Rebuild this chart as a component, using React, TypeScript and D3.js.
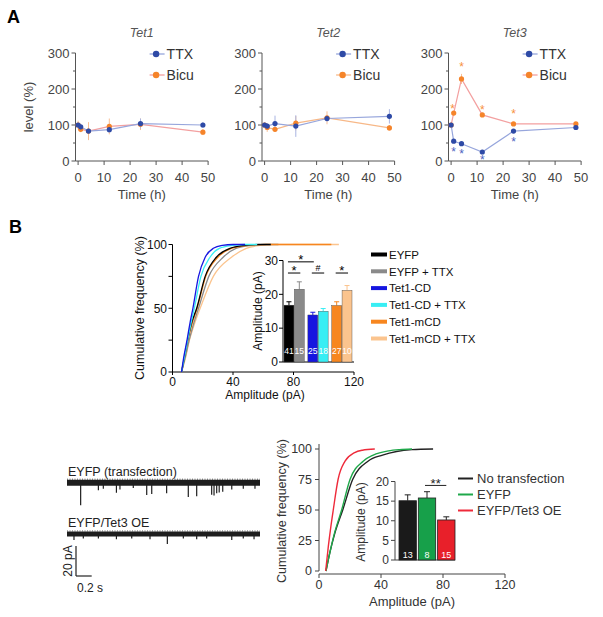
import React from 'react';
import * as d3 from 'd3';

const FONT = '"Liberation Sans", Arial, Helvetica, sans-serif';

// ---------- Panel A data ----------
const timePoints = [0, 1, 4, 12, 24, 48];
const tet1TTX = [100, 95, 83, 87, 104, 100];
const tet1TTXErr = [6, 6, 8, 8, 14, 8];
const tet1Bicu = [100, 88, 83, 96, 102, 80];
const tet1BicuErr = [12, 8, 25, 22, 16, 8];
const tet2TTX = [100, 97, 104, 97, 118, 124];
const tet2TTXErr = [6, 8, 22, 30, 10, 20];
const tet2Bicu = [100, 93, 88, 105, 120, 92];
const tet2BicuErr = [8, 12, 6, 20, 18, 8];
const tet3TTX = [100, 55, 48, 25, 83, 93];
const tet3TTXErr = [4, 4, 4, 4, 4, 4];
const tet3Bicu = [100, 133, 228, 128, 103, 103];
const tet3BicuErr = [4, 6, 14, 6, 4, 4];
const tet3TTXStars: [number, number][] = [[1, 33], [4, 28], [12, 10], [24, 60]];
const tet3BicuStars: [number, number][] = [[0.6, 153], [4, 268], [12, 150], [24, 138]];
const aYTicks = [0, 100, 200, 300];
const aYMinor = [50, 150, 250];
const aXTicks = [0, 10, 20, 30, 40, 50];

// ---------- Panel B upper: cumulative curves ----------
const bUpperNames = ['EYFP', 'EYFP + TTX', 'Tet1-CD', 'Tet1-CD + TTX', 'Tet1-mCD', 'Tet1-mCD + TTX'];
const bUpperColors = ['#000000', '#8a8a8a', '#1616e0', '#38eef4', '#f7861f', '#fbc48e'];
const cumEYFP: [number, number][] = [[6, 0], [8, 12], [10, 25], [12.5, 38], [16, 50], [21.6, 75], [29, 90], [38, 97], [48, 99.3], [57, 100], [65, 100]];
const cumEYFPTTX: [number, number][] = [[6, 0], [8.5, 12], [11, 25], [14, 38], [17.2, 50], [24, 75], [33.5, 90], [42, 97], [52, 99.3], [62, 100], [70, 100]];
const cumTet1CD: [number, number][] = [[6, 0], [7.5, 12], [9.6, 25], [11.5, 38], [13.5, 50], [17.2, 75], [21.6, 90], [27, 97], [33, 99.3], [40, 100], [48, 100]];
const cumTet1CDTTX: [number, number][] = [[6, 0], [8, 12], [10, 25], [12.2, 38], [14.4, 50], [18.8, 75], [24.8, 90], [31, 97], [40, 99.3], [48, 100], [56, 100]];
const cumTet1mCD: [number, number][] = [[6, 0], [8, 12], [10.2, 25], [13, 38], [16.3, 50], [22, 75], [30, 90], [39, 97], [50, 99.3], [62, 100], [105, 100]];
const cumTet1mCDTTX: [number, number][] = [[6, 0], [8.8, 12], [11.2, 25], [14.6, 38], [18.3, 50], [27, 75], [39, 90], [48.8, 97], [58, 99.3], [66, 100], [110, 100]];
const bUpperCurves = [cumEYFP, cumEYFPTTX, cumTet1CD, cumTet1CDTTX, cumTet1mCD, cumTet1mCDTTX];
const bUpperDrawOrder = [5, 1, 4, 0, 3, 2];
const bUpperGroups = ['EYFP', 'Tet1-CD', 'Tet1-mCD'];
const bUpperMeans = [16.8, 21.5, 13.9, 15.0, 16.7, 21.2];
const bUpperErr = [1.0, 2.2, 0.8, 0.8, 1.1, 1.4];
const bUpperN = ['41', '15', '25', '18', '27', '10'];
const bUpperSig = [
  { a: 0, b: 2, level: 29.6, mark: '*' },
  { a: 0, b: 1, level: 26.3, mark: '*' },
  { a: 2, b: 3, level: 26.3, mark: '#' },
  { a: 4, b: 5, level: 26.3, mark: '*' },
];
const cumYTicks = [0, 25, 50, 75, 100];
const cumYLabels = [0, 50, 100];
const ampXTicks = [0, 40, 80, 120];
const insetUpperYTicks = [0, 10, 20, 30];

// ---------- Panel B lower ----------
const bLowerNames = ['No transfection', 'EYFP', 'EYFP/Tet3 OE'];
const bLowerColors = ['#222222', '#1fa84a', '#ee2a3a'];
const bLowerBarColors = ['#1a1a1a', '#17a04a', '#e8202a'];
const cumNoTrans: [number, number][] = [[4.5, 0], [7, 15], [10, 30], [15.3, 50], [21.7, 75], [31.6, 90], [41, 95], [50, 98], [60, 99.5], [73.6, 100]];
const cumEYFP2: [number, number][] = [[4.5, 0], [7, 15], [10, 31], [14.6, 50], [20, 75], [28.5, 90], [35, 95], [45, 98.5], [52, 99.5], [60, 100]];
const cumTet3OE: [number, number][] = [[4.3, 0], [6, 20], [7.5, 35], [9.2, 50], [12.3, 75], [16.8, 90], [23, 97], [28, 99], [36, 100]];
const bLowerCurves = [cumNoTrans, cumEYFP2, cumTet3OE];
const bLowerMeans = [15.1, 15.8, 10.2];
const bLowerErr = [1.5, 1.6, 0.8];
const bLowerN = ['13', '8', '15'];
const insetLowerYTicks = [0, 5, 10, 15, 20];

// traces: [time (s), amplitude (pA, downward)]
const trace1Spikes: [number, number][] = [[0.174, 15], [0.40, 5], [0.463, 4], [0.63, 6.7], [0.675, 4.5], [0.845, 3.5], [1.016, 8.2], [1.08, 7.5], [1.27, 7], [1.546, 9.5], [1.653, 9], [1.844, 8], [1.874, 8.5], [1.908, 7], [1.94, 6.5], [1.985, 6], [2.10, 4.5], [2.247, 4], [2.396, 4]];
const trace2Spikes: [number, number][] = [[0.089, 4], [0.208, 3], [0.40, 3], [0.63, 3.5], [0.825, 3], [1.058, 3.5], [1.279, 6.7], [1.483, 3], [1.653, 3.5], [1.78, 3], [2.10, 4], [2.247, 3], [2.384, 3.5]];
const traceDuration = 2.46;

function Star({ x, y, color, size = 13 }: { x: number; y: number; color: string; size?: number }) {
  return (
    <text x={x} y={y + size * 0.55} textAnchor="middle" fontSize={size} fill={color} fontFamily={FONT}>*</text>
  );
}

function PanelA(props: {
  axisX: number; title: string; ttx: number[]; ttxErr: number[]; bicu: number[]; bicuErr: number[];
  ttxStars?: [number, number][]; bicuStars?: [number, number][]; bicuLine: string; yLabel?: boolean;
}) {
  const { axisX, title, ttx, ttxErr, bicu, bicuErr, ttxStars = [], bicuStars = [], bicuLine, yLabel } = props;
  const x = d3.scaleLinear().domain([-1, 50]).range([axisX, axisX + 132.6]);
  const y = d3.scaleLinear().domain([0, 300]).range([161, 53]);
  const line = d3.line<number>().x((_, i) => x(timePoints[i])).y((d) => y(d));
  const axisCol = '#555';
  const txtCol = '#444';
  const ttxDot = '#2e4aa6';
  const bicuDot = '#f5842a';
  const legX = x(27.5);
  return (
    <g fontFamily={FONT}>
      <text x={(x(-1) + x(50)) / 2} y={37} textAnchor="middle" fontSize={12.5} fontStyle="italic" fill="#555">{title}</text>
      <line x1={axisX} x2={axisX} y1={y(0)} y2={y(300)} stroke={axisCol} strokeWidth={1} />
      <line x1={axisX} x2={x(50)} y1={y(0)} y2={y(0)} stroke={axisCol} strokeWidth={1} />
      {aYTicks.map((t) => (
        <g key={'y' + t}>
          <line x1={axisX - 4} x2={axisX} y1={y(t)} y2={y(t)} stroke={axisCol} />
          <text x={axisX - 6} y={y(t) + 4.5} textAnchor="end" fontSize={13} fill={txtCol}>{t}</text>
        </g>
      ))}
      {aYMinor.map((t) => (
        <line key={'m' + t} x1={axisX - 2.5} x2={axisX} y1={y(t)} y2={y(t)} stroke={axisCol} />
      ))}
      {aXTicks.map((t) => (
        <g key={'x' + t}>
          <line x1={x(t)} x2={x(t)} y1={y(0)} y2={y(0) + 4} stroke={axisCol} />
          <text x={x(t)} y={y(0) + 21} textAnchor="middle" fontSize={13} fill={txtCol}>{t}</text>
        </g>
      ))}
      <text x={(x(-1) + x(50)) / 2} y={199} textAnchor="middle" fontSize={13} fill={txtCol}>Time (h)</text>
      {yLabel && (
        <text transform={`translate(${33},${107}) rotate(-90)`} textAnchor="middle" fontSize={13} fill={txtCol}>level (%)</text>
      )}
      <path d={line(bicu) || ''} fill="none" stroke={bicuLine} strokeWidth={1.2} />
      <path d={line(ttx) || ''} fill="none" stroke="#97a6dc" strokeWidth={1.2} />
      {bicu.map((v, i) => (
        <line key={'be' + i} x1={x(timePoints[i])} x2={x(timePoints[i])} y1={y(v - bicuErr[i])} y2={y(v + bicuErr[i])} stroke="#f8bf95" strokeWidth={1} />
      ))}
      {ttx.map((v, i) => (
        <line key={'te' + i} x1={x(timePoints[i])} x2={x(timePoints[i])} y1={y(v - ttxErr[i])} y2={y(v + ttxErr[i])} stroke="#a8b4e2" strokeWidth={1} />
      ))}
      {bicu.map((v, i) => (
        <circle key={'bd' + i} cx={x(timePoints[i])} cy={y(v)} r={2.6} fill={bicuDot} />
      ))}
      {ttx.map((v, i) => (
        <circle key={'td' + i} cx={x(timePoints[i])} cy={y(v)} r={2.6} fill={ttxDot} />
      ))}
      {ttxStars.map(([t, v], i) => <Star key={'ts' + i} x={x(t)} y={y(v)} color="#4a62c0" size={12} />)}
      {bicuStars.map(([t, v], i) => <Star key={'bs' + i} x={x(t)} y={y(v)} color="#f7913e" size={12} />)}
      <line x1={legX} x2={legX + 15} y1={54} y2={54} stroke="#97a6dc" strokeWidth={1.3} />
      <circle cx={legX + 6.5} cy={54} r={3.2} fill={ttxDot} />
      <text x={legX + 17} y={59} fontSize={14} fill="#333">TTX</text>
      <line x1={legX} x2={legX + 15} y1={75} y2={75} stroke={bicuLine} strokeWidth={1.3} />
      <circle cx={legX + 6.5} cy={75} r={3.2} fill={bicuDot} />
      <text x={legX + 17} y={80} fontSize={14} fill="#333">Bicu</text>
    </g>
  );
}

function PanelBUpper() {
  const x = d3.scaleLinear().domain([0, 120]).range([172.5, 354]);
  const y = d3.scaleLinear().domain([0, 100]).range([372, 244.5]);
  const line = d3.line<[number, number]>().x((d) => x(d[0])).y((d) => y(d[1])).curve(d3.curveMonotoneX);
  const iy = d3.scaleLinear().domain([0, 30]).range([362, 260.5]);
  const outer = d3.scaleBand<string>().domain(bUpperGroups).range([284, 352]).paddingInner(0.15).paddingOuter(0);
  const inner = d3.scaleBand<string>().domain(['ctrl', 'ttx']).range([0, outer.bandwidth()]).paddingInner(0.04);
  const barX = (i: number) => (outer(bUpperGroups[Math.floor(i / 2)]) || 0) + (inner(i % 2 === 0 ? 'ctrl' : 'ttx') || 0);
  const bw = inner.bandwidth();
  return (
    <g fontFamily={FONT}>
      <line x1={172.5} x2={172.5} y1={y(0)} y2={y(100)} stroke="#000" />
      <line x1={172.5} x2={x(120)} y1={y(0)} y2={y(0)} stroke="#000" />
      {cumYTicks.map((t) => (
        <line key={'yt' + t} x1={168.5} x2={172.5} y1={y(t)} y2={y(t)} stroke="#000" />
      ))}
      {cumYLabels.map((t) => (
        <text key={'yl' + t} x={167} y={y(t) + 4.3} textAnchor="end" fontSize={12} fill="#111">{t}</text>
      ))}
      {ampXTicks.map((t) => (
        <g key={'xt' + t}>
          <line x1={x(t)} x2={x(t)} y1={y(0)} y2={y(0) + 3} stroke="#000" />
          <text x={x(t)} y={y(0) + 14} textAnchor="middle" fontSize={12} fill="#111">{t}</text>
        </g>
      ))}
      <text x={265} y={399} textAnchor="middle" fontSize={12} fill="#111">Amplitude (pA)</text>
      <text transform="translate(144,308) rotate(-90)" textAnchor="middle" fontSize={12.5} fill="#111">Cumulative frequency (%)</text>
      {bUpperDrawOrder.map((i) => (
        <path key={'c' + i} d={line(bUpperCurves[i]) || ''} fill="none" stroke={bUpperColors[i]} strokeWidth={1.3} />
      ))}
      <rect x={276} y={255} width={80} height={110} fill="#fff" />
      <line x1={283} x2={283} y1={iy(0)} y2={iy(30)} stroke="#000" />
      <line x1={283} x2={354} y1={iy(0)} y2={iy(0)} stroke="#000" />
      {insetUpperYTicks.map((t) => (
        <g key={'it' + t}>
          <line x1={279} x2={283} y1={iy(t)} y2={iy(t)} stroke="#000" />
          <text x={278} y={iy(t) + 4.3} textAnchor="end" fontSize={12} fill="#111">{t}</text>
        </g>
      ))}
      <text transform="translate(262,311) rotate(-90)" textAnchor="middle" fontSize={12} fill="#111">Amplitude (pA)</text>
      {bUpperMeans.map((m, i) => (
        <g key={'b' + i}>
          <line x1={barX(i) + bw / 2} x2={barX(i) + bw / 2} y1={iy(m)} y2={iy(m + bUpperErr[i])} stroke={i === 0 ? '#000' : bUpperColors[i]} strokeWidth={1} />
          <line x1={barX(i) + bw / 2 - 2.5} x2={barX(i) + bw / 2 + 2.5} y1={iy(m + bUpperErr[i])} y2={iy(m + bUpperErr[i])} stroke={i === 0 ? '#000' : bUpperColors[i]} strokeWidth={1} />
          <rect x={barX(i)} y={iy(m)} width={bw} height={iy(0) - iy(m)} fill={bUpperColors[i]} stroke="#444" strokeWidth={0.4} />
          <text x={barX(i) + bw / 2} y={354} textAnchor="middle" fontSize={8.5} fill="#fff">{bUpperN[i]}</text>
        </g>
      ))}
      {bUpperSig.map((s, i) => {
        const x1 = barX(s.a) + bw / 2 - 1;
        const x2 = barX(s.b) + bw / 2 + 1;
        return (
          <g key={'s' + i}>
            <line x1={x1} x2={x2} y1={iy(s.level)} y2={iy(s.level)} stroke="#000" strokeWidth={1} />
            {s.mark === '*' ? (
              <Star x={(x1 + x2) / 2} y={iy(s.level) - 5} color="#000" size={13} />
            ) : (
              <text x={(x1 + x2) / 2} y={iy(s.level) - 2} textAnchor="middle" fontSize={9} fill="#000">#</text>
            )}
          </g>
        );
      })}
      {bUpperNames.map((n, i) => (
        <g key={'l' + i}>
          <line x1={371} x2={387} y1={254.5 + i * 16.8} y2={254.5 + i * 16.8} stroke={bUpperColors[i]} strokeWidth={4} />
          <text x={389} y={254.5 + i * 16.8 + 4.2} fontSize={11.5} fill="#111">{n}</text>
        </g>
      ))}
    </g>
  );
}

function Traces() {
  const t = d3.scaleLinear().domain([0, traceDuration]).range([67, 260]);
  const a = d3.scaleLinear().domain([0, 20]).range([0, 30]);
  const base1 = 482.7;
  const base2 = 534;
  return (
    <g fontFamily={FONT}>
      <text x={68} y={476} fontSize={12.5} fill="#222">EYFP (transfection)</text>
      <line x1={t(0)} x2={t(traceDuration)} y1={base1} y2={base1} stroke="#1e1e1e" strokeWidth={6} />
      <line x1={t(0)} x2={t(traceDuration)} y1={base1 - 3.5} y2={base1 - 3.5} stroke="#555" strokeWidth={1} strokeDasharray="1 1.5" />
      {trace1Spikes.map(([tt, amp], i) => (
        <line key={'s1' + i} x1={t(tt)} x2={t(tt)} y1={base1} y2={base1 + a(amp)} stroke="#1e1e1e" strokeWidth={1.2} />
      ))}
      <text x={68} y={527} fontSize={12.5} fill="#222">EYFP/Tet3 OE</text>
      <line x1={t(0)} x2={t(traceDuration)} y1={base2} y2={base2} stroke="#1e1e1e" strokeWidth={5} />
      <line x1={t(0)} x2={t(traceDuration)} y1={base2 - 3} y2={base2 - 3} stroke="#555" strokeWidth={1} strokeDasharray="1 1.5" />
      {trace2Spikes.map(([tt, amp], i) => (
        <line key={'s2' + i} x1={t(tt)} x2={t(tt)} y1={base2} y2={base2 + a(amp)} stroke="#1e1e1e" strokeWidth={1.2} />
      ))}
      <line x1={76} x2={76} y1={576 - a(20)} y2={576} stroke="#222" strokeWidth={1.2} />
      <line x1={76} x2={76 + t(0.2) - t(0)} y1={576} y2={576} stroke="#222" strokeWidth={1.2} />
      <text transform="translate(72,561) rotate(-90)" textAnchor="middle" fontSize={12} fill="#222">20 pA</text>
      <text x={77} y={592} fontSize={12} fill="#222">0.2 s</text>
    </g>
  );
}

function PanelBLower() {
  const x = d3.scaleLinear().domain([0, 120]).range([319, 505]);
  const y = d3.scaleLinear().domain([0, 100]).range([571, 449]);
  const line = d3.line<[number, number]>().x((d) => x(d[0])).y((d) => y(d[1])).curve(d3.curveMonotoneX);
  const iy = d3.scaleLinear().domain([0, 20]).range([560, 481.5]);
  const band = d3.scaleBand<string>().domain(bLowerNames).range([399, 455]).paddingInner(0.1).paddingOuter(0);
  const bw = band.bandwidth();
  const txt = '#333';
  return (
    <g fontFamily={FONT}>
      <line x1={319} x2={319} y1={y(0)} y2={y(100) - 5} stroke="#444" />
      <line x1={319} x2={x(120)} y1={574} y2={574} stroke="#444" />
      {cumYTicks.map((t) => (
        <g key={'y' + t}>
          <line x1={315} x2={319} y1={y(t)} y2={y(t)} stroke="#444" />
          <text x={312} y={y(t) + 4.3} textAnchor="end" fontSize={12.5} fill={txt}>{t}</text>
        </g>
      ))}
      {ampXTicks.map((t) => (
        <g key={'x' + t}>
          <line x1={x(t)} x2={x(t)} y1={574} y2={578} stroke="#444" />
          <text x={x(t)} y={589} textAnchor="middle" fontSize={12.5} fill={txt}>{t}</text>
        </g>
      ))}
      <text x={412} y={606} textAnchor="middle" fontSize={13} fill={txt}>Amplitude (pA)</text>
      <text transform="translate(286,511) rotate(-90)" textAnchor="middle" fontSize={12.5} fill={txt}>Cumulative frequency (%)</text>
      {[0, 1, 2].map((i) => (
        <path key={'c' + i} d={line(bLowerCurves[i]) || ''} fill="none" stroke={bLowerColors[i]} strokeWidth={1.4} />
      ))}
      <line x1={395} x2={395} y1={iy(0)} y2={iy(20)} stroke="#444" />
      <line x1={395} x2={455} y1={iy(0)} y2={iy(0)} stroke="#444" />
      {insetLowerYTicks.map((t) => (
        <g key={'it' + t}>
          <line x1={391} x2={395} y1={iy(t)} y2={iy(t)} stroke="#444" />
          <text x={389} y={iy(t) + 4.3} textAnchor="end" fontSize={12} fill={txt}>{t}</text>
        </g>
      ))}
      <text transform="translate(365,522) rotate(-90)" textAnchor="middle" fontSize={12} fill={txt}>Amplitude (pA)</text>
      {bLowerMeans.map((m, i) => {
        const bx = band(bLowerNames[i]) || 0;
        const cx = bx + bw / 2;
        return (
          <g key={'b' + i}>
            <line x1={cx} x2={cx} y1={iy(m)} y2={iy(m + bLowerErr[i])} stroke="#222" />
            <line x1={cx - 3} x2={cx + 3} y1={iy(m + bLowerErr[i])} y2={iy(m + bLowerErr[i])} stroke="#222" />
            <rect x={bx} y={iy(m)} width={bw} height={iy(0) - iy(m)} fill={bLowerBarColors[i]} stroke="#222" strokeWidth={0.8} />
            <text x={cx} y={558} textAnchor="middle" fontSize={9} fill="#fff">{bLowerN[i]}</text>
          </g>
        );
      })}
      {(() => {
        const x1 = (band(bLowerNames[1]) || 0) + bw / 2 - 2;
        const x2 = (band(bLowerNames[2]) || 0) + bw / 2;
        return (
          <g>
            <line x1={x1} x2={x2} y1={iy(19)} y2={iy(19)} stroke="#222" />
            <text x={(x1 + x2) / 2} y={iy(19) + 3} textAnchor="middle" fontSize={13} fill="#222">**</text>
          </g>
        );
      })()}
      {bLowerNames.map((n, i) => (
        <g key={'l' + i}>
          <line x1={458} x2={473} y1={478.5 + i * 16} y2={478.5 + i * 16} stroke={bLowerColors[i]} strokeWidth={2} />
          <text x={477} y={478.5 + i * 16 + 4.8} fontSize={13} fill={txt}>{n}</text>
        </g>
      ))}
    </g>
  );
}

export default function App() {
  return (
    <svg width={603} height={617} viewBox="0 0 603 617" style={{ position: 'absolute', left: 0, top: 0, background: '#fff' }}>
      <rect width={603} height={617} fill="#fff" />
      <text x={7} y={23} fontSize={18} fontWeight="bold" fontFamily={FONT}>A</text>
      <text x={9} y={233} fontSize={18} fontWeight="bold" fontFamily={FONT}>B</text>
      <PanelA axisX={75.5} title="Tet1" ttx={tet1TTX} ttxErr={tet1TTXErr} bicu={tet1Bicu} bicuErr={tet1BicuErr} bicuLine="#f3a0a0" yLabel />
      <PanelA axisX={262} title="Tet2" ttx={tet2TTX} ttxErr={tet2TTXErr} bicu={tet2Bicu} bicuErr={tet2BicuErr} bicuLine="#f7b888" />
      <PanelA axisX={448.5} title="Tet3" ttx={tet3TTX} ttxErr={tet3TTXErr} bicu={tet3Bicu} bicuErr={tet3BicuErr} ttxStars={tet3TTXStars} bicuStars={tet3BicuStars} bicuLine="#f3a0a0" />
      <PanelBUpper />
      <Traces />
      <PanelBLower />
    </svg>
  );
}
